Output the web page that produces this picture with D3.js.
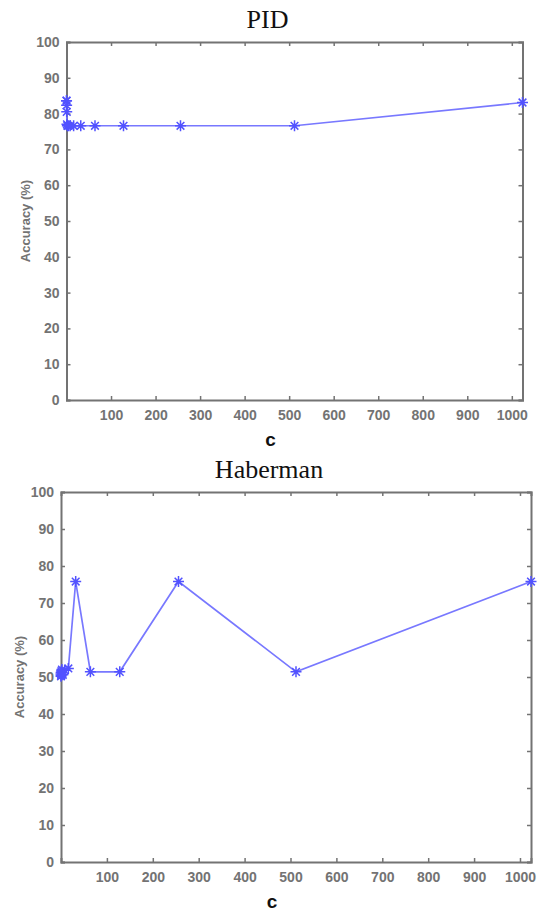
<!DOCTYPE html>
<html>
<head>
<meta charset="utf-8">
<script src="https://cdn.jsdelivr.net/npm/d3@7"></script>
<style>
  body { margin: 0; background: #fff; }
  svg { display: block; }
</style>
</head>
<body>
<div id="chart"></div>
<script>
// c values (powers of 2) and accuracy for each dataset
var cValues = [0.0625, 0.125, 0.25, 0.5, 1, 2, 4, 8, 16, 32, 64, 128, 256, 512, 1024];
var pidAcc = [83.6, 83.6, 82.3, 80.5, 77.0, 76.6, 76.6, 76.6, 76.6, 76.6, 76.6, 76.6, 76.6, 76.6, 83.1];
var habermanAcc = [50.2, 50.8, 51.2, 50.5, 51.6, 52.0, 50.6, 51.8, 52.3, 75.8, 51.4, 51.4, 75.8, 51.4, 75.8];
var xTicks = [100, 200, 300, 400, 500, 600, 700, 800, 900, 1000];
var yTicks = [0, 10, 20, 30, 40, 50, 60, 70, 80, 90, 100];

var W = 544, H = 916;
var svg = d3.select("#chart").append("svg")
    .attr("width", W)
    .attr("height", H);

var axisColor = "#737373";
var lineColor = "#7878ff";
var markColor = "#5252ff";

function drawPanel(box, title, titleY, values) {
    var x = d3.scaleLinear().domain([0, 1024]).range([box.left, box.right]);
    var y = d3.scaleLinear().domain([0, 100]).range([box.bottom, box.top]);
    var g = svg.append("g");

    // tick marks pointing inward (matlab style)
    var tickLen = 4;
    g.append("g")
        .attr("transform", "translate(0," + box.bottom + ")")
        .call(d3.axisBottom(x).tickValues(xTicks).tickSize(-tickLen).tickPadding(10).tickFormat(d3.format("d")))
        .call(styleAxis);
    g.append("g")
        .attr("transform", "translate(0," + box.top + ")")
        .call(d3.axisTop(x).tickValues(xTicks).tickSize(-tickLen).tickFormat(""))
        .call(styleAxis);
    g.append("g")
        .attr("transform", "translate(" + box.left + ",0)")
        .call(d3.axisLeft(y).tickValues(yTicks).tickSize(-tickLen).tickPadding(7).tickFormat(d3.format("d")))
        .call(styleAxis);
    g.append("g")
        .attr("transform", "translate(" + box.right + ",0)")
        .call(d3.axisRight(y).tickValues(yTicks).tickSize(-tickLen).tickFormat(""))
        .call(styleAxis);

    // the line
    var data = cValues.map(function(c, i) { return {c: c, v: values[i]}; });
    var line = d3.line()
        .x(function(d) { return x(d.c); })
        .y(function(d) { return y(d.v); });
    g.append("path")
        .datum(data)
        .attr("d", line)
        .attr("fill", "none")
        .attr("stroke", lineColor)
        .attr("stroke-width", 1.7);

    // asterisk markers
    var r = 5.5;
    var star = "M" + (-r) + ",0H" + r + "M0," + (-r) + "V" + r +
        "M" + (-r * 0.7) + "," + (-r * 0.7) + "L" + (r * 0.7) + "," + (r * 0.7) +
        "M" + (-r * 0.7) + "," + (r * 0.7) + "L" + (r * 0.7) + "," + (-r * 0.7);
    g.selectAll(".mark")
        .data(data)
        .enter()
        .append("path")
        .attr("class", "mark")
        .attr("d", star)
        .attr("transform", function(d) { return "translate(" + x(d.c) + "," + y(d.v) + ")"; })
        .attr("fill", "none")
        .attr("stroke", markColor)
        .attr("stroke-width", 1.5);

    g.append("text")
        .attr("x", (box.left + box.right) / 2 - 27)
        .attr("y", titleY)
        .attr("text-anchor", "middle")
        .style("font-family", "'Liberation Serif', 'Times New Roman', serif")
        .style("font-size", "26px")
        .style("fill", "#111")
        .text(title);

    g.append("text")
        .attr("x", (box.left + box.right) / 2 - 24)
        .attr("y", box.bottom + 46)
        .attr("text-anchor", "middle")
        .style("font-family", "'Liberation Sans', Arial, sans-serif")
        .style("font-size", "19px")
        .style("font-weight", "bold")
        .style("fill", "#111")
        .text("c");

    g.append("text")
        .attr("transform", "translate(" + (box.left - 37) + "," + ((box.top + box.bottom) / 2) + ") rotate(-90)")
        .attr("text-anchor", "middle")
        .style("font-family", "'Liberation Sans', Arial, sans-serif")
        .style("font-size", "13px")
        .style("font-weight", "bold")
        .style("fill", axisColor)
        .text("Accuracy (%)");
}

function styleAxis(sel) {
    sel.select(".domain").attr("stroke", axisColor).attr("stroke-width", 2);
    sel.selectAll(".tick line").attr("stroke", axisColor).attr("stroke-width", 1.5);
    sel.selectAll(".tick text")
        .style("font-family", "'Liberation Sans', Arial, sans-serif")
        .style("font-size", "14px")
        .style("font-weight", "bold")
        .style("fill", axisColor);
}

drawPanel({left: 66.5, right: 522.5, top: 42, bottom: 400}, "PID", 28, pidAcc);
drawPanel({left: 61, right: 531, top: 492, bottom: 862}, "Haberman", 478, habermanAcc);
</script>
</body>
</html>
